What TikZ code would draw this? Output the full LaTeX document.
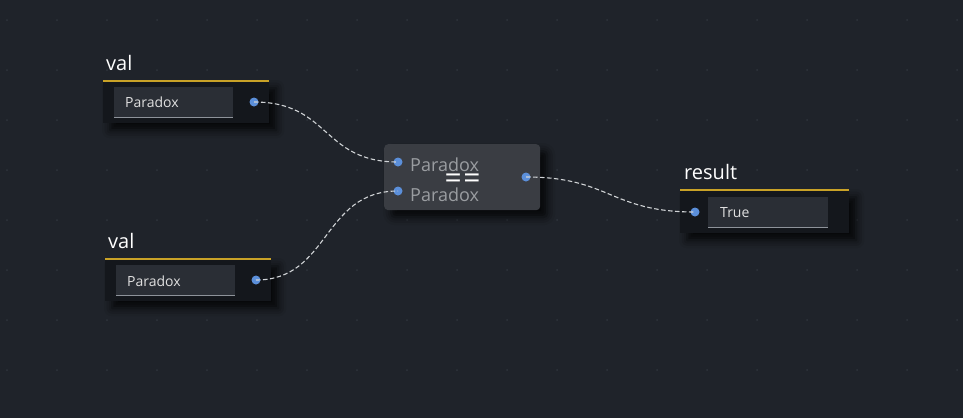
\documentclass[tikz,border=0pt]{standalone}
\usepackage{fontspec}
\setmainfont{Open Sans}
\usetikzlibrary{shadows.blur}
\definecolor{bg}{HTML}{1F232A}
\definecolor{griddot}{HTML}{2F343C}
\definecolor{boxc}{HTML}{14171C}
\definecolor{fieldc}{HTML}{2A2E35}
\definecolor{fieldline}{HTML}{8E939A}
\definecolor{goldc}{HTML}{C9A227}
\definecolor{portc}{HTML}{5B8FDA}
\definecolor{midc}{HTML}{3A3D43}
\definecolor{midtext}{HTML}{9A9DA1}
\definecolor{wirec}{HTML}{D0D3D6}
\tikzset{
  box/.style={fill=boxc, inner sep=0, anchor=north west,
    blur shadow={shadow xshift=7pt, shadow yshift=-7pt, shadow blur radius=8pt, shadow opacity=80}},
  field/.style={fill=fieldc, inner sep=0, anchor=north west},
  fieldtxt/.style={text=white!88!black, anchor=west, inner sep=0, font=\fontsize{14}{16}\selectfont},
  titletxt/.style={text=white, anchor=base west, inner sep=0, font=\fontsize{20}{24}\selectfont},
  port/.style={circle, fill=portc, inner sep=0, minimum size=9pt},
  midbox/.style={fill=midc, rounded corners=4pt, inner sep=0, anchor=north west,
    blur shadow={shadow xshift=7pt, shadow yshift=-7pt, shadow blur radius=8pt, shadow opacity=80}},
  midtxt/.style={text=midtext, anchor=west, inner sep=0, font=\fontsize{18}{20}\selectfont},
  optxt/.style={text=white, inner sep=0, font=\fontsize{30}{30}\selectfont},
  wire/.style={wirec, dash pattern=on 4.5pt off 2.5pt, line width=1.1pt},
  goldline/.style={goldc, line width=2.4pt},
}
\begin{document}
\begin{tikzpicture}[x=1pt,y=-1pt]
\fill[bg] (0,0) rectangle (963,418);
\useasboundingbox (0,0) rectangle (963,418);
\foreach \i in {0,...,19}{
  \foreach \j in {0,...,8}{
    \fill[griddot] (7+50*\i,20+50*\j) circle (1pt);
  }
}
% node 1
\node[titletxt] (v1) at (106,70) {val};
\node[box, minimum width=166pt, minimum height=42pt] (b1) at (103,81) {};
\draw[goldline] (b1.north west) -- (b1.north east);
\node[field, minimum width=119pt, minimum height=30pt] (f1) at (114,87) {};
\draw[fieldline, line width=1pt] (f1.south west) -- (f1.south east);
\node[fieldtxt] (t1) at (125,102) {Paradox};
\node[port] (p1) at (254,102) {};
% node 2
\node[titletxt] (v2) at (108,248) {val};
\node[box, minimum width=166pt, minimum height=42pt] (b2) at (105,259) {};
\draw[goldline] (b2.north west) -- (b2.north east);
\node[field, minimum width=119pt, minimum height=30pt] (f2) at (116,265) {};
\draw[fieldline, line width=1pt] (f2.south west) -- (f2.south east);
\node[fieldtxt] (t2) at (127,281) {Paradox};
\node[port] (p2) at (256,280) {};
% middle
\node[midbox, minimum width=156pt, minimum height=66pt] (m) at (384,144) {};
\node[port] (pa) at (398,162) {};
\node[port] (pb) at (398,191) {};
\node[port] (po) at (526,177) {};
\node[midtxt] (ma) at (410,165) {Paradox};
\node[midtxt] (mb) at (410,195) {Paradox};
\node[optxt] (eq) at (462.5,181) {=\kern1.5pt=};
% result
\node[titletxt] (vr) at (684,179) {result};
\node[box, minimum width=169pt, minimum height=43pt] (br) at (680,190) {};
\draw[goldline] (br.north west) -- (br.north east);
\node[field, minimum width=120pt, minimum height=30pt] (fr) at (708,197) {};
\draw[fieldline, line width=1pt] (fr.south west) -- (fr.south east);
\node[fieldtxt] (tr) at (720,213) {True};
\node[port] (pr) at (695,212) {};
% wires
\draw[wire] (p1.center) .. controls (330,102) and (322,162) .. (pa.center);
\draw[wire] (p2.center) .. controls (330,280) and (322,191) .. (pb.center);
\draw[wire] (po.center) .. controls (610,177) and (610,212) .. (pr.center);
\end{tikzpicture}
\end{document}
